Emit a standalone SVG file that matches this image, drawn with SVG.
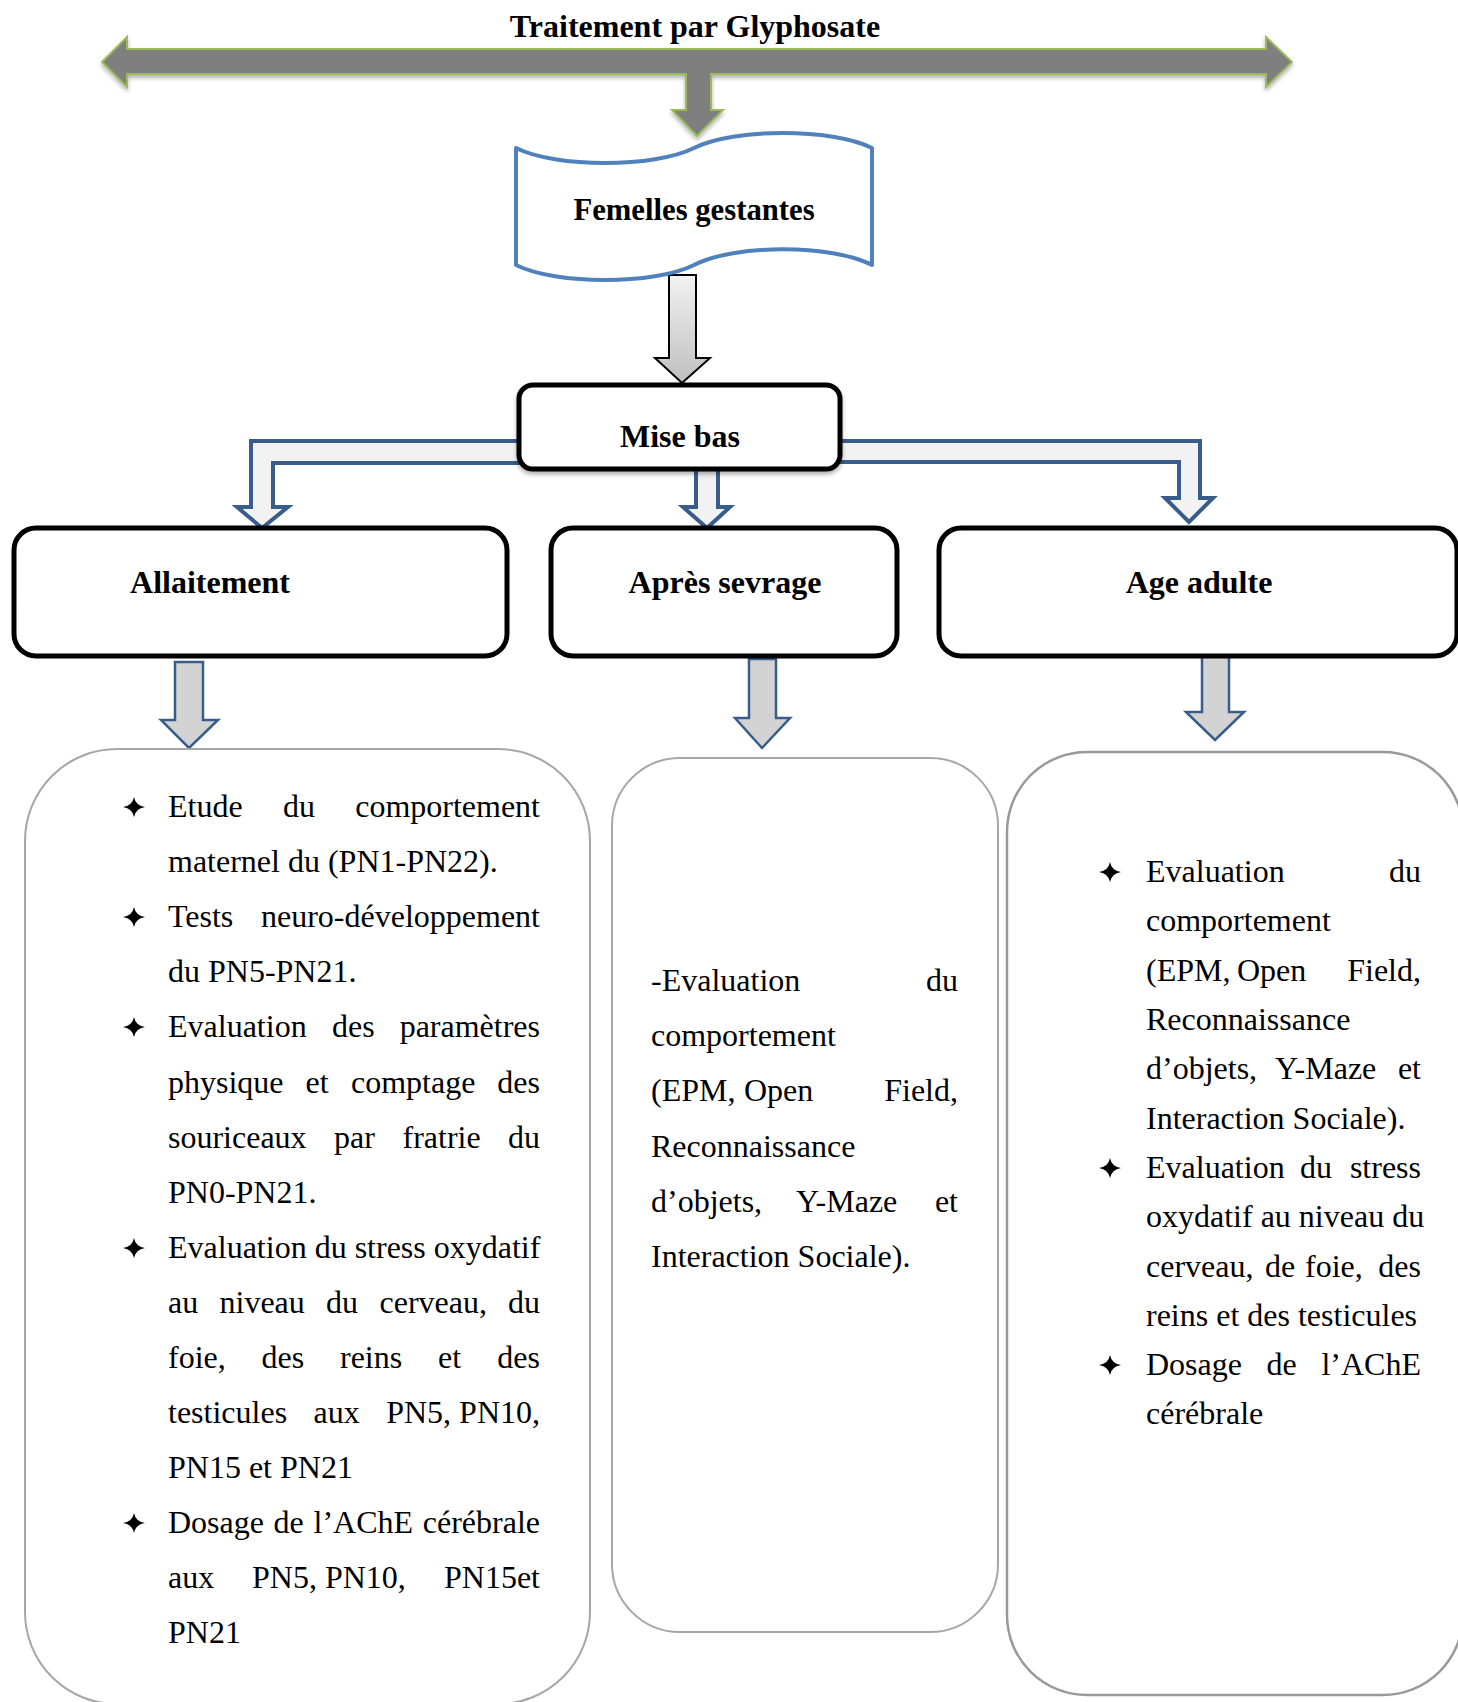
<svg xmlns="http://www.w3.org/2000/svg" xmlns:xlink="http://www.w3.org/1999/xlink" width="1458" height="1702" viewBox="0 0 1458 1702">
<defs>
<style>
.t{font-family:"Liberation Serif","Times New Roman",serif;font-size:32px;fill:#000}
.b{font-weight:bold}
.box{fill:#fff;stroke:#000;stroke-width:5}
.card{fill:#fff;stroke:#a6a6a6;stroke-width:2}
.blue{fill:#f2f2f2;stroke:#385d8a;stroke-width:4;stroke-linejoin:miter}
.grayarr{fill:#d3d3d3;stroke:#385d8a;stroke-width:2.5}
</style>
<linearGradient id="gg" x1="0" y1="0" x2="0" y2="1">
<stop offset="0" stop-color="#f2f2f2"/>
<stop offset="1" stop-color="#bfbfbf"/>
</linearGradient>
<filter id="sh" x="-5%" y="-20%" width="110%" height="160%">
<feDropShadow dx="0" dy="3" stdDeviation="2" flood-color="#000" flood-opacity="0.3"/>
</filter>
<path id="star" d="M0,-10 Q1.5,-1.5 11,0 Q1.5,1.5 0,10 Q-1.5,1.5 -11,0 Q-1.5,-1.5 0,-10 Z" fill="#000"/>
</defs>

<rect width="1458" height="1702" fill="#fff"/>

<g id="connectors">
<path id="top-arrow" filter="url(#sh)" d="M102,62 L127,37 L127,49 L1266,49 L1266,37 L1292,62 L1266,87 L1266,74 L711,74 L711,110 L723,110 L697,136 L672,110 L686,110 L686,74 L127,74 L127,87 Z" fill="#7f7f7f" stroke="#9bbb59" stroke-width="2"/>
<path d="M669,275 H696 V358 H710 L682,383 L655,358 H669 Z" fill="url(#gg)" stroke="#000" stroke-width="2"/>
<path class="blue" d="M525,441 H251 V507 H237 L262,528 L288,507 H273 V463 H525"/>
<path class="blue" d="M696,466 V507 H683 L707,528 L730,507 H718 V466"/>
<path class="blue" d="M834,441 H1200 V498 H1213 L1189,522 L1165,498 H1179 V462 H834"/>
<path class="grayarr" d="M175,662 H203 V720 H218 L189,748 L161,720 H175 Z"/>
<path class="grayarr" d="M749,659 H776 V718 H790 L762,748 L735,718 H749 Z"/>
<path class="grayarr" d="M1202,653 H1229 V712 H1244 L1215,740 L1186,712 H1202 Z"/>
</g>

<g id="title">
<text class="t b" x="695" y="37" text-anchor="middle">Traitement par Glyphosate</text>
</g>

<g id="femelles">
<path d="M516,148 C556,168 654,168 694,148 C734,128 832,128 872,148 L872,265 C832,244 734,244 694,265 C654,285 556,285 516,265 Z" fill="#fff" stroke="#4f81bd" stroke-width="4" stroke-linejoin="round"/>
<text class="t b" x="694" y="220" text-anchor="middle" style="font-size:30.7px">Femelles gestantes</text>
</g>

<g id="mise-bas">
<rect class="box" x="519" y="385" width="321" height="84" rx="14" filter="url(#sh)"/>
<text class="t b" x="680" y="447" text-anchor="middle">Mise bas</text>
</g>

<g id="allaitement">
<rect class="box" x="14" y="528" width="493" height="128" rx="22"/>
<text class="t b" x="210" y="593" text-anchor="middle">Allaitement</text>
</g>

<g id="apres-sevrage">
<rect class="box" x="551" y="528" width="346" height="128" rx="22"/>
<text class="t b" x="725" y="593" text-anchor="middle">Après sevrage</text>
</g>

<g id="age-adulte">
<rect class="box" x="939" y="528" width="518" height="128" rx="22"/>
<text class="t b" x="1199" y="593" text-anchor="middle">Age adulte</text>
</g>

<g id="card-allaitement">
<rect class="card" x="25" y="749" width="565" height="955" rx="92"/>
<use xlink:href="#star" x="134" y="807"/>
<use xlink:href="#star" x="134" y="917"/>
<use xlink:href="#star" x="134" y="1027"/>
<use xlink:href="#star" x="134" y="1248"/>
<use xlink:href="#star" x="134" y="1523"/>
<text class="t" y="817"><tspan x="168">Etude</tspan><tspan x="283">du</tspan><tspan x="540" text-anchor="end">comportement</tspan></text>
<text class="t" x="168" y="872">maternel du (PN1-PN22).</text>
<text class="t" y="927"><tspan x="168">Tests</tspan><tspan x="540" text-anchor="end">neuro-développement</tspan></text>
<text class="t" x="168" y="982">du PN5-PN21.</text>
<text class="t" y="1037"><tspan x="168">Evaluation</tspan><tspan x="332">des</tspan><tspan x="540" text-anchor="end">paramètres</tspan></text>
<text class="t" y="1093"><tspan x="168">physique</tspan><tspan x="305.5">et</tspan><tspan x="351">comptage</tspan><tspan x="540" text-anchor="end">des</tspan></text>
<text class="t" y="1148"><tspan x="168">souriceaux</tspan><tspan x="334">par</tspan><tspan x="402.5">fratrie</tspan><tspan x="540" text-anchor="end">du</tspan></text>
<text class="t" x="168" y="1203">PN0-PN21.</text>
<text class="t" x="168" y="1258">Evaluation du stress oxydatif</text>
<text class="t" y="1313"><tspan x="168">au</tspan><tspan x="219.5">niveau</tspan><tspan x="326">du</tspan><tspan x="379.5">cerveau,</tspan><tspan x="540" text-anchor="end">du</tspan></text>
<text class="t" y="1368"><tspan x="168">foie,</tspan><tspan x="261.5">des</tspan><tspan x="340">reins</tspan><tspan x="438">et</tspan><tspan x="540" text-anchor="end">des</tspan></text>
<text class="t" y="1423"><tspan x="168">testicules</tspan><tspan x="313.5">aux</tspan><tspan x="540" text-anchor="end">PN5, PN10,</tspan></text>
<text class="t" x="168" y="1478">PN15 et PN21</text>
<text class="t" y="1533"><tspan x="168">Dosage</tspan><tspan x="273.5">de</tspan><tspan x="313.5">l’AChE</tspan><tspan x="540" text-anchor="end">cérébrale</tspan></text>
<text class="t" y="1588"><tspan x="168">aux</tspan><tspan x="252">PN5, PN10,</tspan><tspan x="540" text-anchor="end">PN15et</tspan></text>
<text class="t" x="168" y="1643">PN21</text>
</g>

<g id="card-apres-sevrage">
<rect class="card" x="612" y="758" width="386" height="874" rx="68"/>
<text class="t" y="991"><tspan x="651">-Evaluation</tspan><tspan x="958" text-anchor="end">du</tspan></text>
<text class="t" x="651" y="1046">comportement</text>
<text class="t" y="1101"><tspan x="651">(EPM,</tspan><tspan x="744">Open</tspan><tspan x="958" text-anchor="end">Field,</tspan></text>
<text class="t" x="651" y="1157">Reconnaissance</text>
<text class="t" y="1212"><tspan x="651">d’objets,</tspan><tspan x="796">Y-Maze</tspan><tspan x="958" text-anchor="end">et</tspan></text>
<text class="t" x="651" y="1267">Interaction Sociale).</text>
</g>

<g id="card-age-adulte">
<rect class="card" x="1007" y="752" width="456" height="943" rx="80" style="stroke:#999;stroke-width:2.5"/>
<use xlink:href="#star" x="1110" y="872"/>
<use xlink:href="#star" x="1110" y="1168"/>
<use xlink:href="#star" x="1110" y="1365"/>
<text class="t" y="882"><tspan x="1146">Evaluation</tspan><tspan x="1421" text-anchor="end">du</tspan></text>
<text class="t" x="1146" y="931">comportement</text>
<text class="t" y="981"><tspan x="1146">(EPM,</tspan><tspan x="1237">Open</tspan><tspan x="1421" text-anchor="end">Field,</tspan></text>
<text class="t" x="1146" y="1030">Reconnaissance</text>
<text class="t" y="1079"><tspan x="1146">d’objets,</tspan><tspan x="1275">Y-Maze</tspan><tspan x="1421" text-anchor="end">et</tspan></text>
<text class="t" x="1146" y="1129">Interaction Sociale).</text>
<text class="t" y="1178"><tspan x="1146">Evaluation</tspan><tspan x="1300">du</tspan><tspan x="1421" text-anchor="end">stress</tspan></text>
<text class="t" x="1146" y="1227">oxydatif au niveau du</text>
<text class="t" y="1277"><tspan x="1146">cerveau,</tspan><tspan x="1265">de</tspan><tspan x="1305">foie,</tspan><tspan x="1421" text-anchor="end">des</tspan></text>
<text class="t" x="1146" y="1326">reins et des testicules</text>
<text class="t" y="1375"><tspan x="1146">Dosage</tspan><tspan x="1266.5">de</tspan><tspan x="1421" text-anchor="end">l’AChE</tspan></text>
<text class="t" x="1146" y="1424">cérébrale</text>
</g>
</svg>
